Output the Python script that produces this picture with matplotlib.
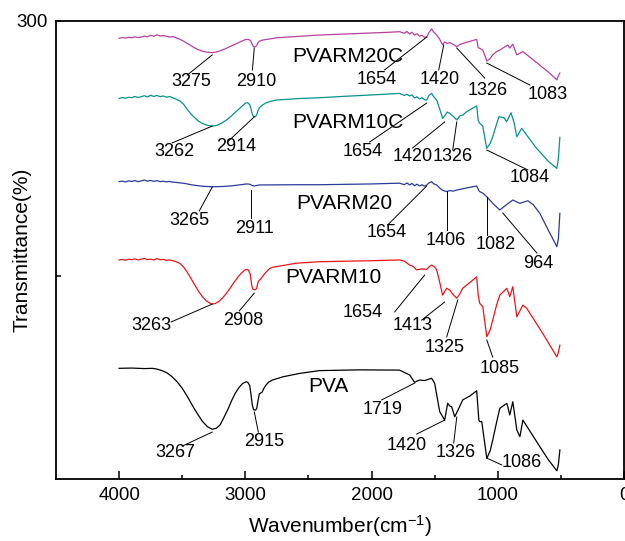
"""
ftir_stack.py
FTIR spectra of PVA and the PVARM films, stacked with offsets
"""
import numpy as np
import matplotlib.pyplot as plt

plt.rcParams['font.family'] = ['Liberation Sans', 'DejaVu Sans']
plt.rcParams['mathtext.fontset'] = 'custom'
plt.rcParams['mathtext.rm'] = 'Liberation Sans'
plt.rcParams['mathtext.it'] = 'Liberation Sans'

# ---- data ----
pvarm20c_wn = [4000, 3975, 3950, 3925, 3900, 3875, 3850, 3825, 3800, 3775, 3750, 3725, 3700, 3675,
               3650, 3625, 3600, 3575, 3548, 3520, 3490, 3460, 3430, 3400, 3370, 3330, 3290, 3262,
               3230, 3200, 3160, 3120, 3080, 3040, 3010, 2992, 2970, 2955, 2945, 2935, 2920, 2910,
               2900, 2889, 2865, 2800, 2754, 2571, 2413, 2200, 2000, 1850, 1778,
               1740, 1720, 1698, 1680, 1659, 1640, 1620, 1600, 1580, 1563, 1545, 1524, 1510, 1484,
               1460, 1437, 1420, 1400, 1381, 1350, 1325, 1300, 1250, 1200, 1167, 1155, 1143, 1119,
               1095, 1087, 1060, 1040, 1010, 984, 921, 905, 881, 849, 801, 700, 600, 532, 520, 508]
pvarm20c_t = [293.2, 293.5, 293.3, 293.6, 293.4, 293.8, 293.5, 293.7, 294.1, 293.8, 294.4, 294.0, 294.6, 294.1,
              294.3, 294.0, 293.7, 293.9, 293.4, 292.9, 292.1, 291.2, 290.3, 289.4, 288.7, 288.0, 287.7, 287.6,
              287.8, 288.3, 289.1, 290.0, 290.9, 291.8, 292.5, 292.8, 292.7, 292.0, 290.8, 289.9, 289.9, 290.4,
              291.5, 292.1, 292.5, 293.0, 293.4, 294.0, 294.5, 294.9, 295.3, 295.6, 295.8,
              295.2, 295.9, 294.9, 295.6, 294.5, 295.0, 294.0, 294.4, 293.6, 293.7, 295.5, 296.9, 295.8, 294.5,
              292.8, 290.6, 291.8, 291.2, 291.5, 290.8, 289.9, 290.8, 291.6, 292.3, 292.8, 289.5, 289.3, 288.6,
              285.5, 284.3, 285.3, 286.7, 288.0, 288.6, 290.6, 289.4, 290.9, 286.7, 288.0, 284.0, 280.0, 276.9,
              278.5, 279.6]

pvarm10c_wn = [4000, 3975, 3950, 3925, 3900, 3875, 3850, 3825, 3800, 3775, 3750, 3725, 3700, 3675,
               3650, 3625, 3600, 3575, 3548, 3520, 3490, 3460, 3430, 3400, 3370, 3340, 3300, 3262,
               3230, 3200, 3170, 3140, 3110, 3080, 3050, 3020, 2995, 2980, 2965, 2955, 2945, 2935,
               2920, 2910, 2900, 2889, 2875, 2865, 2840, 2800, 2754, 2571, 2413, 2200, 2000, 1850, 1778,
               1740, 1720, 1698, 1680, 1659, 1640, 1620, 1600, 1580, 1563, 1545, 1524, 1510, 1484,
               1460, 1437, 1420, 1400, 1381, 1350, 1325, 1300, 1278, 1250, 1200, 1167, 1155, 1143,
               1119, 1095, 1087, 1060, 1040, 1010, 990, 950, 930, 895, 870, 849, 810, 700, 600, 532,
               520, 508]
pvarm10c_t = [269.6, 270.0, 269.7, 270.1, 269.9, 270.4, 270.0, 270.3, 270.7, 270.2, 270.9, 270.4, 270.8, 270.3,
              270.6, 270.1, 270.4, 269.9, 269.3, 268.7, 267.4, 265.3, 263.5, 262.0, 260.7, 259.8, 259.1, 258.8,
              259.0, 259.6, 260.5, 261.5, 262.8, 264.2, 265.5, 266.9, 267.9, 267.9, 267.2, 265.5, 263.5, 262.5,
              262.5, 263.2, 264.8, 266.0, 266.6, 267.0, 267.8, 268.5, 269.0, 269.6, 269.9, 270.5, 271.0, 271.4, 271.6,
              270.8, 271.3, 270.6, 271.0, 269.8, 270.3, 269.4, 269.9, 269.1, 269.0, 270.8, 271.6, 270.5, 269.0,
              265.5, 261.8, 262.8, 264.3, 263.8, 262.5, 261.2, 262.8, 263.1, 264.3, 265.8, 266.7, 261.0, 259.9,
              258.8, 252.0, 250.1, 252.0, 254.6, 259.5, 262.5, 262.0, 260.5, 264.0, 260.0, 254.6, 257.9, 250.5,
              245.0, 242.2, 246.0, 254.4]

pvarm20_wn = [4000, 3975, 3950, 3925, 3900, 3875, 3850, 3825, 3800, 3775, 3750, 3725, 3700, 3675,
              3650, 3625, 3600, 3575, 3548, 3480, 3420, 3340, 3262, 3180, 3100, 3020, 2992, 2965,
              2945, 2929, 2910, 2889, 2571, 2413, 2000, 1778, 1740, 1720, 1698, 1680, 1659, 1640,
              1620, 1600, 1580, 1563, 1545, 1524, 1510, 1484, 1460, 1437, 1405, 1381, 1350, 1325,
              1250, 1167, 1150, 1143, 1119, 1087, 1040, 984, 930, 881, 825, 762, 720, 667, 600,
              532, 520, 508]
pvarm20_t = [237.0, 237.2, 236.9, 237.3, 237.1, 237.4, 237.0, 237.3, 237.6, 237.2, 237.5, 237.1, 237.4, 237.0,
             237.2, 236.9, 237.1, 236.8, 236.7, 236.3, 235.7, 235.2, 235.0, 235.1, 235.4, 235.9, 236.1, 236.0,
             235.5, 235.3, 235.5, 235.7, 235.8, 235.8, 236.1, 236.4, 235.8, 236.5, 235.7, 236.3, 235.4, 236.0,
             235.3, 235.8, 235.2, 235.7, 236.5, 237.0, 236.2, 235.7, 234.5, 233.6, 233.1, 233.5, 233.3, 233.7,
             234.5, 235.3, 233.5, 233.1, 232.5, 231.1, 228.5, 225.9, 228.0, 229.8, 228.5, 229.5, 228.0, 224.6,
             218.0, 211.5, 214.5, 224.6]

pvarm10_wn = [4000, 3975, 3950, 3925, 3900, 3875, 3850, 3825, 3800, 3775, 3750, 3725, 3700, 3675,
              3650, 3625, 3600, 3575, 3548, 3520, 3490, 3460, 3430, 3400, 3370, 3340, 3310, 3280,
              3262, 3240, 3210, 3180, 3150, 3120, 3090, 3060, 3030, 3005, 2992, 2975, 2960, 2950,
              2940, 2920, 2910, 2900, 2889, 2875, 2865, 2840, 2810, 2786, 2600, 2413, 2000, 1778,
              1740, 1698, 1670, 1643, 1600, 1563, 1540, 1524, 1500, 1484, 1460, 1437, 1420, 1405,
              1381, 1350, 1325, 1300, 1278, 1220, 1167, 1155, 1143, 1119, 1087, 1060, 1040, 1010,
              984, 928, 905, 881, 849, 801, 770, 650, 532, 520, 508]
pvarm10_t = [206.3, 206.5, 206.2, 206.6, 206.4, 206.7, 206.3, 206.6, 206.9, 206.4, 206.6, 206.3, 206.8, 206.4,
             206.5, 206.1, 206.3, 206.0, 205.6, 205.0, 203.6, 201.5, 199.0, 196.4, 194.0, 191.9, 190.3, 189.3,
             189.0, 189.2, 190.0, 191.4, 193.2, 195.3, 197.5, 199.5, 201.2, 202.3, 202.6, 202.3, 200.5, 196.5,
             194.8, 194.6, 195.2, 197.5, 198.4, 199.0, 199.7, 201.3, 202.8, 203.4, 205.0, 205.6, 206.0, 206.3,
             205.8, 204.3, 203.8, 202.4, 202.8, 202.6, 203.8, 204.3, 203.5, 202.4, 197.5, 192.5, 194.0, 195.2,
             194.5, 192.5, 191.3, 193.0, 195.2, 197.5, 199.7, 192.5, 189.3, 188.0, 176.2, 179.0, 182.7, 188.5,
             192.5, 195.2, 191.9, 195.8, 184.0, 188.6, 187.3, 178.0, 168.3, 170.0, 172.9]

pva_wn = [4000, 3900, 3800, 3738, 3700, 3660, 3620, 3580, 3540, 3500, 3460, 3420, 3380, 3340,
          3300, 3262, 3230, 3200, 3170, 3140, 3110, 3080, 3050, 3020, 2995, 2980, 2965, 2955,
          2945, 2935, 2920, 2910, 2900, 2889, 2875, 2865, 2855, 2840, 2815, 2786, 2700, 2571,
          2413, 2100, 1778, 1740, 1698, 1659, 1640, 1619, 1580, 1524, 1500, 1460, 1421, 1397,
          1380, 1365, 1341, 1300, 1278, 1220, 1167, 1150, 1143, 1127, 1087, 1060, 1040, 1010,
          984, 928, 905, 881, 849, 825, 801, 667, 600, 532, 520, 508]
pva_t = [163.8, 163.9, 163.7, 163.8, 163.5, 162.9, 162.0, 160.5, 158.5, 156.0, 152.8, 149.3, 146.0, 143.0,
         140.9, 139.9, 140.3, 141.6, 144.5, 147.5, 151.0, 154.0, 156.3, 157.9, 158.5, 158.3, 157.0, 153.5,
         149.5, 147.6, 147.4, 148.0, 151.0, 153.8, 154.2, 154.6, 155.8, 157.0, 158.4, 159.2, 160.5, 161.8,
         162.9, 163.2, 163.1, 162.2, 161.2, 158.3, 158.8, 159.2, 159.0, 159.9, 157.9, 146.8, 143.5, 150.1,
         149.0, 148.7, 144.8, 149.0, 151.4, 153.0, 155.0, 143.5, 142.9, 142.9, 128.5, 131.5, 135.7, 142.5,
         148.1, 150.1, 145.5, 150.7, 139.6, 137.0, 143.5, 133.1, 128.0, 123.6, 126.0, 131.8]

sample_names = ['PVARM20C', 'PVARM10C', 'PVARM20', 'PVARM10', 'PVA']
sample_colors = ['#B8409E', '#07928A', '#2B3A9A', '#E8161B', '#000000']

# peak labels: (text, point on curve, end of leader line, text centre)
peaks = [
    ('3275', (3262, 286.7), (3460, 278.8), (3429, 276.1)),
    ('2910', (2929, 289.4), (2944, 280.8), (2913, 276.1)),
    ('1654', (1563, 293.7), (1897, 280.8), (1960, 276.9)),
    ('1420', (1428, 290.6), (1468, 280.8), (1460, 276.9)),
    ('1326', (1325, 289.4), (1103, 277.6), (1079, 272.9)),
    ('1083', (1087, 283.5), (746, 274.9), (603, 271.0)),
    ('3262', (3262, 258.8), (3579, 252.2), (3563, 249.0)),
    ('2914', (2929, 262.4), (3143, 252.5), (3071, 250.6)),
    ('1654', (1563, 267.8), (2016, 252.5), (2071, 249.0)),
    ('1420', (1421, 260.4), (1675, 250.2), (1675, 246.7)),
    ('1326', (1325, 260.4), (1357, 249.4), (1357, 246.7)),
    ('1084', (1087, 249.4), (762, 241.6), (746, 238.8)),
    ('3265', (3262, 234.9), (3365, 225.5), (3444, 221.6)),
    ('2911', (2952, 233.7), (2952, 222.7), (2929, 218.8)),
    ('1654', (1563, 235.3), (1873, 220.0), (1881, 216.9)),
    ('1406', (1405, 233.3), (1405, 218.0), (1413, 214.1)),
    ('1082', (1087, 231.0), (1087, 216.1), (1016, 212.2)),
    ('964', (960, 224.7), (690, 209.0), (682, 205.1)),
    ('3263', (3262, 189.0), (3587, 182.0), (3746, 180.4)),
    ('2908', (2929, 193.3), (3048, 186.3), (3016, 182.4)),
    ('1654', (1579, 200.4), (1817, 185.9), (2071, 185.5)),
    ('1413', (1421, 189.8), (1603, 182.7), (1675, 180.4)),
    ('1325', (1317, 190.6), (1405, 176.1), (1421, 171.8)),
    ('1085', (1087, 174.9), (1040, 168.2), (984, 163.9)),
    ('3267', (3262, 138.8), (3500, 133.3), (3556, 130.6)),
    ('2915', (2929, 146.7), (2897, 138.8), (2849, 135.3)),
    ('1719', (1659, 158.0), (1920, 151.4), (1913, 147.5)),
    ('1420', (1421, 143.5), (1643, 138.0), (1722, 133.7)),
    ('1326', (1325, 144.7), (1349, 134.5), (1333, 130.6)),
    ('1086', (1087, 128.6), (968, 125.9), (810, 126.7)),
]
# sample name anchors (left edge, vertical centre)
name_pos = [(2627, 285.9), (2627, 260.0), (2595, 228.6), (2683, 199.6), (2500, 156.5)]

fig = plt.figure(figsize=(6.25, 5.41), dpi=100)
ax = fig.add_axes([0.0896, 0.1146, 0.9088, 0.8466])

curves = [(pvarm20c_wn, pvarm20c_t), (pvarm10c_wn, pvarm10c_t), (pvarm20_wn, pvarm20_t),
          (pvarm10_wn, pvarm10_t), (pva_wn, pva_t)]
for (wn, t), c in zip(curves, sample_colors):
    ax.plot(wn, t, color=c, linewidth=0.9)

for (x, y), name in zip(name_pos, sample_names):
    ax.text(x, y, name, fontsize=15, ha='left', va='center')

for lab, p0, p1, pt in peaks:
    ax.plot([p0[0], p1[0]], [p0[1], p1[1]], color='black', linewidth=0.7)
    ax.text(pt[0], pt[1], lab, fontsize=13, ha='center', va='center')

ax.set_xlim(4500, 0)
ax.set_ylim(120.4, 300)
ax.set_xticks([4000, 3000, 2000, 1000, 0])
ax.set_xticks([3500, 2500, 1500, 500], minor=True)
ax.set_yticks([200, 300])
ax.set_yticklabels(['', '300'])

ax.tick_params(axis='both', which='major', direction='in', length=6, width=1.1,
               labelsize=13.5, pad=6)
ax.tick_params(axis='x', which='minor', direction='in', length=3, width=1.1)
ax.tick_params(axis='y', which='major', length=3.5)
for sp in ax.spines.values():
    sp.set_linewidth(1.3)

ax.set_xlabel(r'Wavenumber(cm$^{-1}$)', fontsize=15, labelpad=6)
ax.set_ylabel('Transmittance(%)', fontsize=15)
ax.yaxis.set_label_coords(-0.043, 0.5)

plt.savefig('out.png', dpi=100)
